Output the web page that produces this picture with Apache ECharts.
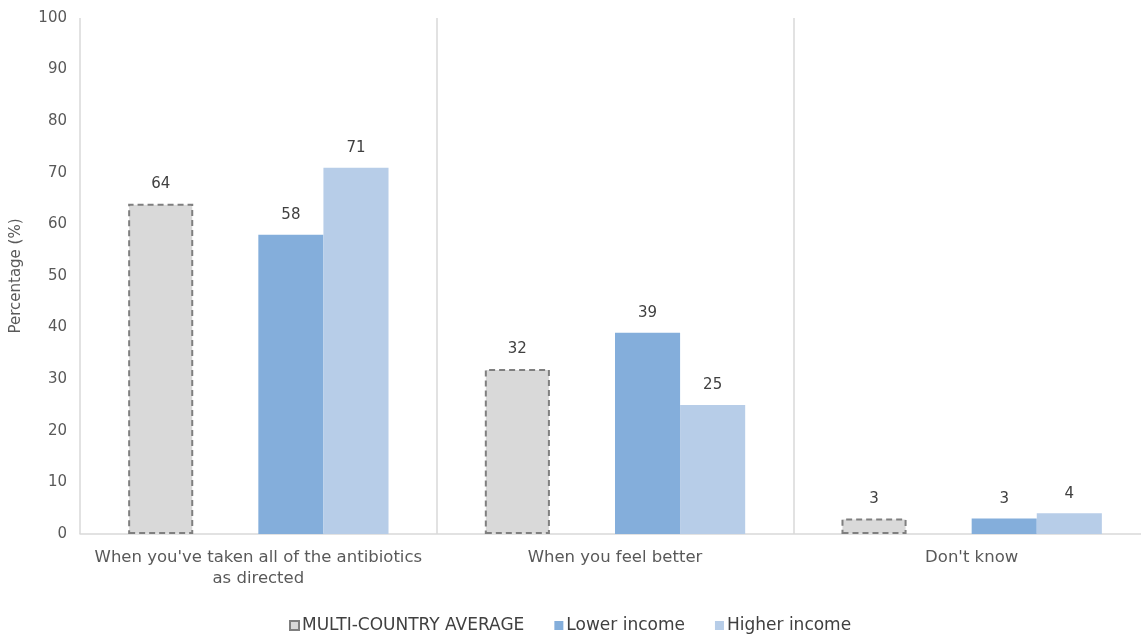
<!DOCTYPE html>
<html>
<head>
<meta charset="utf-8">
<script src="https://cdn.jsdelivr.net/npm/echarts@6/dist/echarts.min.js"></script>
<style>html,body{margin:0;padding:0;background:#fff;overflow:hidden}#c{width:1150px;height:635px}</style>
</head>
<body>
<div id="c"></div>
<script>
const categories = ["When you've taken all of the antibiotics\nas directed", "When you feel better", "Don't know"];
const seriesNames = ["MULTI-COUNTRY AVERAGE", "Lower income", "Higher income"];
const averageValues = [64, 32, 3];
const lowerIncomeValues = [58, 39, 3];
const higherIncomeValues = [71, 25, 4];
const yTicks = [0, 10, 20, 30, 40, 50, 60, 70, 80, 90, 100];

const FONT = 'DejaVu Sans';
const chart = echarts.init(document.getElementById('c'), null, {renderer: 'canvas'});
const lbl = {show: true, position: 'top', distance: 12, color: '#404040', fontSize: 15, fontFamily: FONT};
chart.setOption({
  animation: false,
  textStyle: {fontFamily: FONT},
  grid: {left: 80, top: 18, right: 0, bottom: 101, containLabel: false},
  legend: {
    data: seriesNames, top: 612, left: 284, itemWidth: 9, itemHeight: 9, itemGap: 30,
    textStyle: {fontSize: 17, color: '#404040', fontFamily: FONT, padding: [0, 0, 0, -2]},
    icon: 'rect'
  },
  xAxis: {
    type: 'category', data: categories,
    axisLine: {lineStyle: {color: '#d9d9d9', width: 1.5}},
    axisTick: {show: false},
    splitLine: {show: true, lineStyle: {color: '#d9d9d9', width: 1.5}},
    axisLabel: {color: '#595959', fontSize: 16.5, lineHeight: 21, margin: 13, fontFamily: FONT, interval: 0}
  },
  yAxis: {
    type: 'value', min: 0, max: 100, interval: 10,
    name: 'Percentage (%)', nameLocation: 'middle', nameGap: 56, nameRotate: 90,
    nameTextStyle: {color: '#595959', fontSize: 15, fontFamily: FONT},
    axisLine: {show: false}, axisTick: {show: false}, splitLine: {show: false},
    axisLabel: {color: '#595959', fontSize: 15, margin: 13, fontFamily: FONT,
      formatter: v => yTicks.includes(v) ? String(v) : ''}
  },
  series: [
    {name: seriesNames[0], type: 'bar', data: averageValues, barGap: '0%', barCategoryGap: '27%',
     itemStyle: {color: '#d9d9d9', borderColor: '#7f7f7f', borderWidth: 2, borderType: [6, 4]}, label: lbl},
    {name: '_gap', type: 'bar', data: [null, null, null], barGap: '0%', barCategoryGap: '27%'},
    {name: seriesNames[1], type: 'bar', data: lowerIncomeValues, barGap: '0%', barCategoryGap: '27%',
     itemStyle: {color: '#84aedb'}, label: lbl},
    {name: seriesNames[2], type: 'bar', data: higherIncomeValues, barGap: '0%', barCategoryGap: '27%',
     itemStyle: {color: '#b7cde8'}, label: lbl}
  ]
});
</script>
</body>
</html>
